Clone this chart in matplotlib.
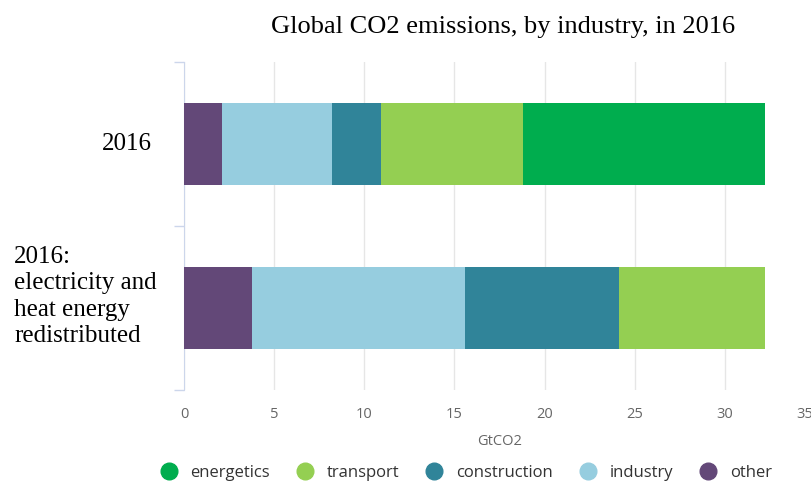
import matplotlib
matplotlib.use("Agg")
import matplotlib.pyplot as plt
from matplotlib.lines import Line2D
from matplotlib.transforms import blended_transform_factory, ScaledTranslation

title = "Global CO2 emissions, by industry, in 2016"
categories = ["2016", "2016:\nelectricity and\nheat energy\nredistributed"]
series_names = ["other", "industry", "construction", "transport", "energetics"]
values = {
    "other":        [2.1, 3.75],
    "industry":     [6.1, 11.85],
    "construction": [2.7, 8.55],
    "transport":    [7.9, 8.1],
    "energetics":   [13.4, 0.0],
}
colors = {
    "other": "#634878",
    "industry": "#96cddf",
    "construction": "#308499",
    "transport": "#94cf52",
    "energetics": "#00ad4e",
}
legend_order = ["energetics", "transport", "construction", "industry", "other"]
xticks = [0, 5, 10, 15, 20, 25, 30, 35]
xlabel = "GtCO2"

fig = plt.figure(figsize=(8.11, 4.84), dpi=100)
ax = fig.add_axes([184/811, 1-390/484, 631/811, 328/484])

ypos = list(range(len(categories)))
left = [0.0] * len(categories)
for name in series_names:
    v = values[name]
    ax.barh(ypos, v, left=left, height=0.5, color=colors[name], zorder=3)
    left = [a + b for a, b in zip(left, v)]

ax.set_xlim(0, 35)
ax.set_ylim(1.5, -0.5)
ax.set_xticks(xticks)
ax.set_xticklabels([str(t) for t in xticks], fontsize=10.5, color="#666666", family="Open Sans")
ax.tick_params(axis="x", length=0, pad=12)
ax.grid(axis="x", color="#e6e6e6", linewidth=1, zorder=0)
ax.set_xlabel(xlabel, fontsize=10.5, color="#666666", family="Open Sans", labelpad=9)

# Highcharts-style justification of the last (overflowing) label
last = ax.get_xticklabels()[-1]
last.set_transform(last.get_transform() + ScaledTranslation(-10/100, 0, fig.dpi_scale_trans))

ax.set_yticks(ypos)
ax.set_yticklabels([])
ax.tick_params(axis="y", which="major", length=0)
ax.set_yticks([-0.5, 0.5, 1.5], minor=True)
ax.tick_params(axis="y", which="minor", length=7, color="#ccd6eb", width=1)

for s in ["top", "right", "bottom"]:
    ax.spines[s].set_visible(False)
ax.spines["left"].set_color("#ccd6eb")

trans = blended_transform_factory(fig.transFigure, ax.transData)
ax.text(152/811, ypos[0], categories[0], transform=trans, ha="right", va="center",
        fontsize=18, family="Liberation Serif", color="#000000")
ax.text(14/811, ypos[1] - 0.07, categories[1], transform=trans, ha="left", va="center",
        fontsize=18, family="Liberation Serif", color="#000000", linespacing=1.26)

fig.text(503/811, 1-27/484, title, ha="center", va="center", fontsize=19,
         family="Liberation Serif", color="#000000")

handles = [Line2D([0], [0], marker="o", linestyle="none", markersize=12,
                  markerfacecolor=colors[n], markeredgecolor=colors[n]) for n in legend_order]
fig.legend(handles, legend_order, loc="center", bbox_to_anchor=(462/811, 1-473/484),
           ncol=5, frameon=False, handletextpad=0.3, columnspacing=1.1,
           prop={"family": "Open Sans", "size": 12}, labelcolor="#333333")

fig.savefig("out.png", dpi=100)
